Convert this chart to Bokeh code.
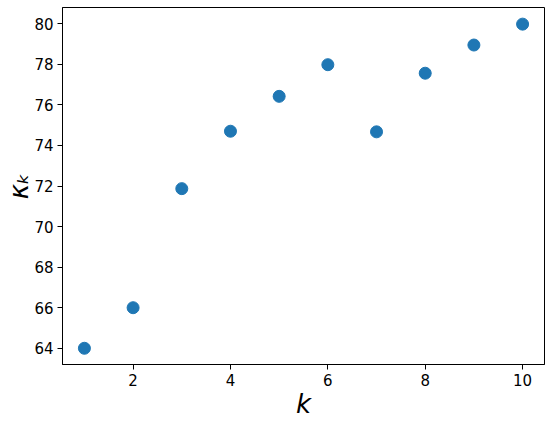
import math
from bokeh.plotting import figure
from bokeh.models import Range1d, FixedTicker, ColumnDataSource
from bokeh.embed import file_html
from bokeh.resources import INLINE

# data
k_values = [1, 2, 3, 4, 5, 6, 7, 8, 9, 10]
kappa_values = [64.0, 66.0, 71.87, 74.7, 76.42, 77.98, 74.67, 77.56, 78.95, 79.98]
x_ticks = [2, 4, 6, 8, 10]
y_ticks = [64, 66, 68, 70, 72, 74, 76, 78, 80]

FONT = "DejaVu Sans"

p = figure(width=550, height=421, output_backend="svg", toolbar_location=None,
           x_range=Range1d(0.55, 10.45), y_range=Range1d(63.2, 80.8),
           min_border_left=62, min_border_right=6, min_border_top=7, min_border_bottom=55)

src = ColumnDataSource(dict(k=k_values, kappa=kappa_values))
p.scatter("k", "kappa", source=src, size=12, fill_color="#1f77b4", line_color="#1f77b4")

p.xgrid.visible = False
p.ygrid.visible = False
p.outline_line_color = "black"
p.outline_line_width = 1
p.background_fill_color = "white"
p.border_fill_color = "white"

for ax, ticks in ((p.xaxis[0], x_ticks), (p.yaxis[0], y_ticks)):
    ax.ticker = FixedTicker(ticks=ticks)
    ax.minor_tick_line_color = None
    ax.major_tick_out = 5
    ax.major_tick_in = 0
    ax.major_tick_line_color = "black"
    ax.axis_line_color = "black"
    ax.major_label_text_font = FONT
    ax.major_label_text_font_size = "15px"
    ax.major_label_text_color = "black"
    ax.major_label_standoff = 4
    ax.axis_label_text_font = FONT
    ax.axis_label_text_font_style = "italic"
    ax.axis_label_text_color = "black"
    ax.axis_label_standoff = 0

p.xaxis[0].axis_label = "k"
p.xaxis[0].axis_label_text_font_size = "26px"
p.yaxis[0].axis_label = "κₖ"
p.yaxis[0].axis_label_text_font_size = "26px"
p.yaxis[0].axis_label_standoff = -3

open("out.html", "w").write(file_html(p, INLINE))
